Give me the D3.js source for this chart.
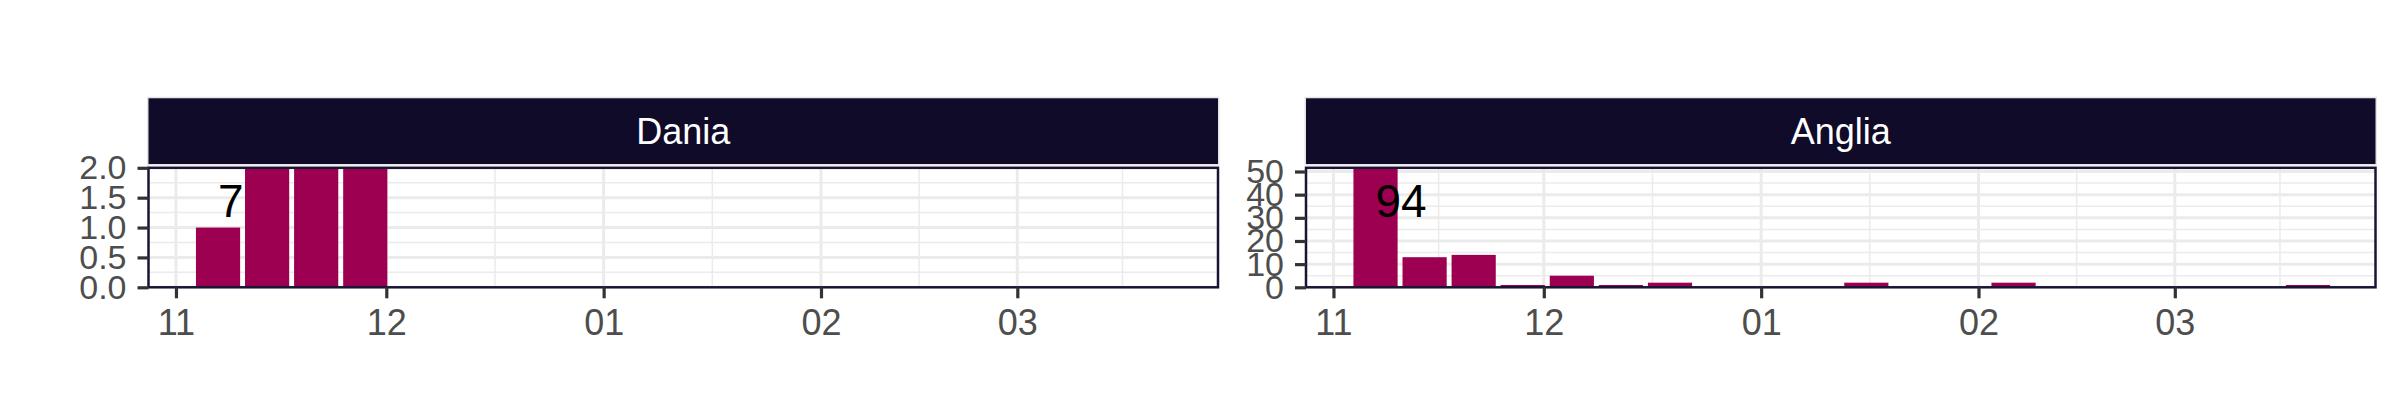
<!DOCTYPE html>
<html>
<head>
<meta charset="utf-8">
<script src="https://cdn.jsdelivr.net/npm/d3@7"></script>
<style>
  html, body { margin: 0; padding: 0; background: #ffffff; }
  svg { display: block; }
  text { font-family: "Liberation Sans", Arial, Helvetica, sans-serif; }
</style>
</head>
<body>
<script>
// ---------------- data ----------------
const panelNames = ["Dania", "Anglia"];

const daniaWeeks  = ["2022-11-07", "2022-11-14", "2022-11-21", "2022-11-28"];
const daniaCounts = [1, 2, 2, 2];

const angliaWeeks  = ["2022-11-07", "2022-11-14", "2022-11-21", "2022-11-28", "2022-12-05",
                      "2022-12-12", "2022-12-19", "2023-01-16", "2023-02-06", "2023-03-20"];
const angliaCounts = [53, 13, 14, 1, 5, 1, 2, 2, 2, 1];

const daniaYMax  = 2;
const angliaYMax = 51.6;

const daniaYTicks  = [0, 0.5, 1, 1.5, 2];
const angliaYTicks = [0, 10, 20, 30, 40, 50];

const xDomain     = ["2022-10-28T02:00:00Z", "2023-03-29T15:00:00Z"];
const xTicks      = ["2022-11-01", "2022-12-01", "2023-01-01", "2023-02-01", "2023-03-01"];
const xTickLabels = ["11", "12", "01", "02", "03"];
const xMinor      = ["2022-11-16", "2022-12-16T12:00:00Z", "2023-01-16T12:00:00Z", "2023-02-15", "2023-03-16"];

// ---------------- layout / style ----------------
const W = 2400, H = 420;
const panelLefts = [148.5, 1306];
const panelW = 1069.5;
const panelTop = 167.8, panelBottom = 287.3;
const stripTop = 98.3, stripBottom = 164;
const barColor = "#9d0050";
const stripColor = "#0f0b29";
const borderColor = "#1a1434";
const gridColor = "#ebebeb";

const parse = s => new Date(s.length === 10 ? s + "T00:00:00Z" : s);

const svg = d3.select("body").append("svg")
  .attr("width", W).attr("height", H);

svg.append("rect").attr("width", W).attr("height", H).attr("fill", "#ffffff");

const panels = [
  { name: panelNames[0], weeks: daniaWeeks, counts: daniaCounts, yMax: daniaYMax,
    yTicks: daniaYTicks, fmt: d3.format(".1f") },
  { name: panelNames[1], weeks: angliaWeeks, counts: angliaCounts, yMax: angliaYMax,
    yTicks: angliaYTicks, fmt: d3.format("d") }
];

panels.forEach((p, i) => {
  const g = svg.append("g").attr("transform", `translate(${panelLefts[i]},0)`);
  const x = d3.scaleUtc().domain(xDomain.map(parse)).range([0, panelW]);
  const y = d3.scaleLinear().domain([0, p.yMax]).range([panelBottom, panelTop]);
  const data = p.weeks.map((w, k) => ({ date: parse(w), value: p.counts[k] }));

  // panel background
  g.append("rect").attr("x", 0).attr("y", panelTop)
    .attr("width", panelW).attr("height", panelBottom - panelTop).attr("fill", "#ffffff");

  const clipId = "clip" + i;
  g.append("clipPath").attr("id", clipId).append("rect")
    .attr("x", 0).attr("y", panelTop).attr("width", panelW).attr("height", panelBottom - panelTop);

  const grid = g.append("g").attr("clip-path", `url(#${clipId})`);

  // minor horizontal grid (midpoints of ticks)
  const yMinor = d3.pairs(p.yTicks).map(([a, b]) => (a + b) / 2);
  const step = p.yTicks[1] - p.yTicks[0];
  yMinor.push(p.yTicks[p.yTicks.length - 1] + step / 2);
  grid.selectAll(".hminor").data(yMinor).join("line")
    .attr("x1", 0).attr("x2", panelW)
    .attr("y1", d => y(d)).attr("y2", d => y(d))
    .attr("stroke", gridColor).attr("stroke-width", 1.5);
  // minor vertical grid
  grid.selectAll(".vminor").data(xMinor.map(parse)).join("line")
    .attr("x1", d => x(d)).attr("x2", d => x(d))
    .attr("y1", panelTop).attr("y2", panelBottom)
    .attr("stroke", gridColor).attr("stroke-width", 1.5);
  // major grid
  grid.selectAll(".hmajor").data(p.yTicks).join("line")
    .attr("x1", 0).attr("x2", panelW)
    .attr("y1", d => y(d)).attr("y2", d => y(d))
    .attr("stroke", gridColor).attr("stroke-width", 3);
  grid.selectAll(".vmajor").data(xTicks.map(parse)).join("line")
    .attr("x1", d => x(d)).attr("x2", d => x(d))
    .attr("y1", panelTop).attr("y2", panelBottom)
    .attr("stroke", gridColor).attr("stroke-width", 3);

  // bars (weekly, 90% of a week wide)
  const weekMs = 7 * 24 * 3600 * 1000;
  const bw = x(new Date(xDomain.map(parse)[0].getTime() + 0.9 * weekMs)) - x(xDomain.map(parse)[0]);
  g.append("g").attr("clip-path", `url(#${clipId})`)
    .selectAll("rect").data(data).join("rect")
    .attr("x", d => x(d.date) - bw / 2)
    .attr("width", bw)
    .attr("y", d => y(d.value))
    .attr("height", d => y(0) - y(d.value))
    .attr("fill", barColor);

  // total label
  g.append("text")
    .attr("x", x(data[0].date))
    .attr("y", y(p.yMax * 0.725))
    .attr("dy", "0.36em")
    .attr("text-anchor", "start")
    .attr("font-size", 46)
    .attr("fill", "#000000")
    .text(d3.sum(p.counts));

  // panel border
  g.append("rect").attr("x", 0).attr("y", panelTop)
    .attr("width", panelW).attr("height", panelBottom - panelTop)
    .attr("fill", "none").attr("stroke", borderColor).attr("stroke-width", 2.5);

  // strip
  g.append("rect").attr("x", -1.5).attr("y", stripTop - 1.5)
    .attr("width", panelW + 3).attr("height", stripBottom - stripTop + 3)
    .attr("fill", "#e3e3e3");
  g.append("rect").attr("x", 0).attr("y", stripTop)
    .attr("width", panelW).attr("height", stripBottom - stripTop)
    .attr("fill", stripColor);
  g.append("text")
    .attr("x", panelW / 2).attr("y", (stripTop + stripBottom) / 2)
    .attr("dy", "0.36em").attr("text-anchor", "middle")
    .attr("font-size", 36).attr("fill", "#ffffff")
    .text(p.name);

  // y axis
  const ya = g.append("g").call(
    d3.axisLeft(y).tickValues(p.yTicks).tickFormat(p.fmt).tickSize(11).tickPadding(11)
  );
  ya.select(".domain").remove();
  ya.selectAll("line").attr("stroke", "#333333").attr("stroke-width", 3.2);
  ya.selectAll("text").attr("font-size", 34).attr("fill", "#4d4d4d")
    .attr("font-family", "Liberation Sans, Arial, sans-serif");

  // x axis
  const xa = g.append("g").attr("transform", `translate(0,${panelBottom})`).call(
    d3.axisBottom(x).tickValues(xTicks.map(parse))
      .tickFormat((d, k) => xTickLabels[k]).tickSize(11).tickPadding(11.5)
  );
  xa.select(".domain").remove();
  xa.selectAll("line").attr("stroke", "#333333").attr("stroke-width", 3.2);
  xa.selectAll("text").attr("font-size", 36).attr("fill", "#4d4d4d")
    .attr("font-family", "Liberation Sans, Arial, sans-serif");
});
</script>
</body>
</html>
